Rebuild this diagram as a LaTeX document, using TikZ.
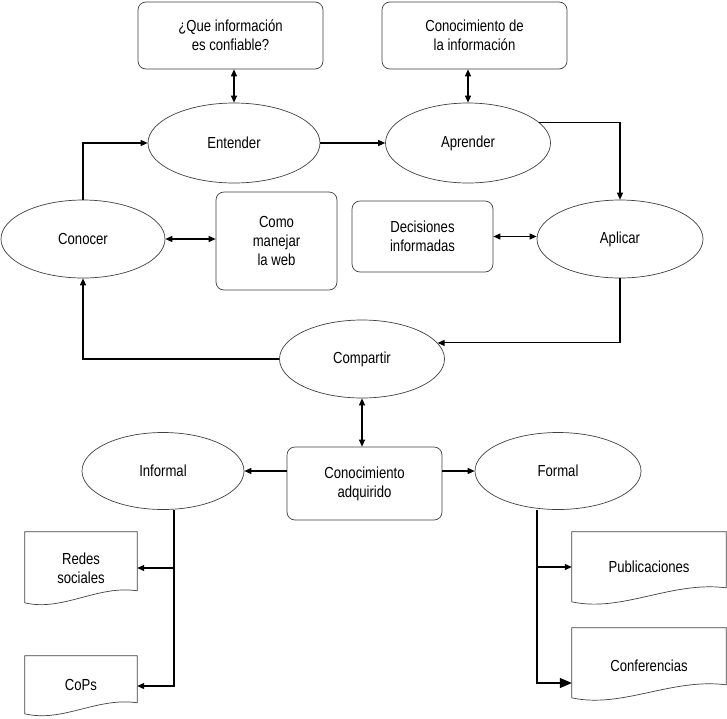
\documentclass[tikz,border=0pt]{standalone}
\usepackage{fontspec}
\setmainfont[FakeStretch=0.82]{Liberation Sans}
\usetikzlibrary{shapes.geometric,arrows.meta,calc}
\begin{document}
\begin{tikzpicture}[x=1pt,y=-1pt,
  every node/.style={font=\fontsize{16}{19}\selectfont},
  ell/.style={ellipse,draw=black!75,line width=0.7pt,inner sep=0pt,align=center},
  rbox/.style={rectangle,rounded corners=8pt,draw=black!75,line width=0.7pt,inner sep=0pt,align=center},
  docbox/.style={rectangle,inner sep=0pt,align=center},
  docline/.style={draw=black!75,line width=0.7pt},
  conn/.style={line width=1.1pt,-{Triangle[length=7pt,width=6pt]}},
  bconn/.style={line width=1.1pt,{Triangle[length=7pt,width=6pt]}-{Triangle[length=7pt,width=6pt]}},
  plain/.style={line width=1.1pt}]
\useasboundingbox (0,0) rectangle (727,718);
\fill[white] (0,0) rectangle (727,718);

% top boxes
\node[rbox,minimum width=185pt,minimum height=67pt] (q) at (230.5,35.5) {¿Que información\\es confiable?};
\node[rbox,minimum width=185pt,minimum height=67pt] (cdi) at (474.5,35.5) {Conocimiento de\\la información};

% ellipses
\node[ell,minimum width=172pt,minimum height=80pt] (ent) at (234,143) {Entender};
\node[ell,minimum width=165pt,minimum height=80pt] (apr) at (468,143) {Aprender};
\node[ell,minimum width=164pt,minimum height=78pt] (con) at (83,239) {Conocer};
\node[ell,minimum width=166pt,minimum height=78pt] (apl) at (620,239) {Aplicar};
\node[ell,minimum width=165pt,minimum height=78pt] (comp) at (362,359) {Compartir};
\node[ell,minimum width=162pt,minimum height=77pt] (inf) at (163,471) {Informal};
\node[ell,minimum width=166pt,minimum height=77pt] (form) at (558,471) {Formal};

% middle boxes
\node[rbox,minimum width=121pt,minimum height=98pt] (como) at (276.5,241) {Como\\manejar\\la web};
\node[rbox,minimum width=141pt,minimum height=71pt] (dec) at (422.5,236.5) {Decisiones\\informadas};
\node[rbox,minimum width=155pt,minimum height=73pt] (ca) at (364.5,483.5) {Conocimiento\\adquirido};

% documents
\node[docbox,minimum width=112pt,minimum height=72pt] (redes) at (81,568) {Redes\\sociales};
\node[docbox,minimum width=112pt,minimum height=58pt] (cops) at (81,685) {CoPs};
\node[docbox,minimum width=154pt,minimum height=70pt] (pub) at (649,567) {Publicaciones};
\node[docbox,minimum width=154pt,minimum height=76pt] (conf) at (649,666) {Conferencias};

\draw[docline] (redes.north west) -- (redes.north east) -- ++(0,59)
  .. controls +(-40,-6) and +(38,9) .. ([yshift=-71pt]redes.north west) -- cycle;
\draw[docline] (cops.north west) -- (cops.north east) -- ++(0,47)
  .. controls +(-40,-6) and +(38,9) .. ([yshift=-58pt]cops.north west) -- cycle;
\draw[docline] (pub.north west) -- (pub.north east) -- ++(0,56)
  .. controls +(-55,-7) and +(50,11) .. ([yshift=-70pt]pub.north west) -- cycle;
\draw[docline] (conf.north west) -- (conf.north east) -- ++(0,57)
  .. controls +(-55,-7) and +(50,11) .. ([yshift=-70pt]conf.north west) -- cycle;

% connectors
\draw[bconn] (ent.north |- q.south) -- (ent.north);
\draw[bconn] (apr.north |- cdi.south) -- (apr.north);
\draw[conn] (con.north) |- (ent.west);
\draw[conn] (ent.east) -- (apr.west);
\draw[conn] (apr.16) -| (apl.north);
\draw[bconn] (con.east) -- (con.east -| como.west);
\draw[bconn] (dec.east) -- (dec.east -| apl.west);
\draw[conn] (apl.south) |- (comp.12);
\draw[conn] (comp.west) -| (con.south);
\draw[bconn] (comp.south) -- (comp.south |- ca.north);
\draw[conn] (inf.east -| ca.west) -- (inf.east);
\draw[conn] (form.west -| ca.east) -- (form.west);

\coordinate (ib) at ([xshift=11pt]inf.south);
\coordinate (fb) at ([xshift=-21pt]form.south);
\draw[conn] (ib) |- ([yshift=-1pt]cops.east);
\draw[conn] (ib |- redes.east) -- (redes.east);
\draw[line width=1.1pt,-{Triangle[length=12pt,width=10pt]}] (fb) |- ([yshift=-17pt]conf.west);
\draw[conn] (fb |- pub.west) -- (pub.west);
\end{tikzpicture}
\end{document}
